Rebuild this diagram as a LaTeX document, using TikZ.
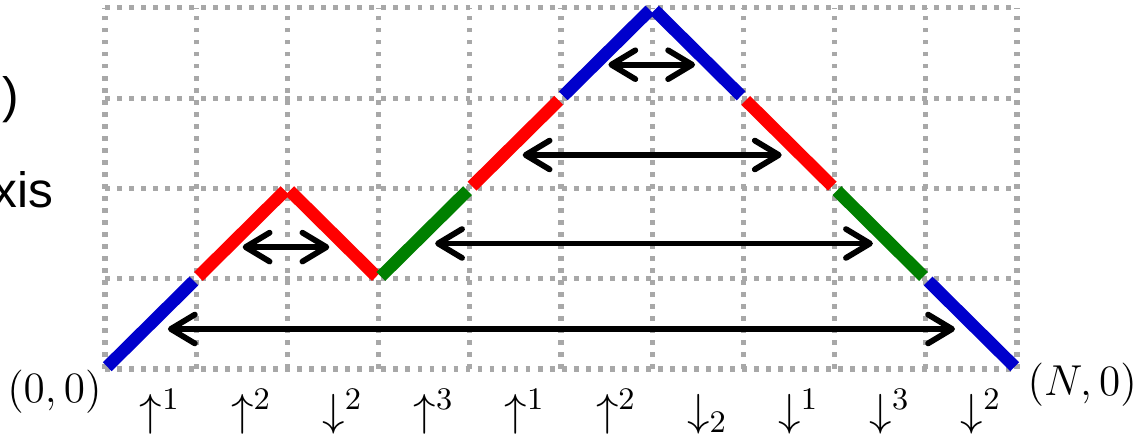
\documentclass[tikz,border=0pt]{standalone}
\usepackage{fix-cm}
\usepackage{fontspec}
\newfontfamily\arialfont{Liberation Sans}
\usetikzlibrary{arrows.meta}
\definecolor{pblue}{RGB}{0,0,204}
\definecolor{pred}{RGB}{255,0,0}
\definecolor{pgreen}{RGB}{0,128,0}
\definecolor{gridgray}{RGB}{168,168,168}
\begin{document}
\begin{tikzpicture}[x=1cm,y=0.99cm,
  gridline/.style={gridgray, line width=1.6pt, dash pattern=on 1.5pt off 2.25pt},
  seg/.style={line width=3.9pt, shorten <=1pt, shorten >=1pt},
  barb/.tip={Straight Barb[length=7.5pt,width=9pt,line cap=round,line join=round]},
  span/.style={line width=1.8pt, barb-barb, line cap=round},
  lab/.style={anchor=base west, inner sep=0pt, font=\fontsize{14}{16}\selectfont},
  corner/.style={inner sep=0pt, font=\fontsize{13.5}{16}\selectfont},
  cut/.style={anchor=base east, inner sep=0pt, font=\arialfont\fontsize{15.5}{18}\selectfont},
  ]
\useasboundingbox (-1.151cm,-0.778cm) rectangle (11.305cm,4.046cm);
% grid
\foreach \i in {0,...,10} \draw[gridline] (\i,0) -- (\i,4);
\foreach \j in {0,...,4} \draw[gridline] (0,\j) -- (10,\j);
% path points
\coordinate (p0) at (0,0);
\coordinate (p1) at (1,1);
\coordinate (p2) at (2,2);
\coordinate (p3) at (3,1);
\coordinate (p4) at (4,2);
\coordinate (p5) at (5,3);
\coordinate (p6) at (6,4);
\coordinate (p7) at (7,3);
\coordinate (p8) at (8,2);
\coordinate (p9) at (9,1);
\coordinate (p10) at (10,0);
\draw[seg,pblue]  (p0) -- (p1);
\draw[seg,pred]   (p1) -- (p2);
\draw[seg,pred]   (p2) -- (p3);
\draw[seg,pgreen] (p3) -- (p4);
\draw[seg,pred]   (p4) -- (p5);
\draw[seg,pblue]  (p5) -- (p6);
\draw[seg,pblue]  (p6) -- (p7);
\draw[seg,pred]   (p7) -- (p8);
\draw[seg,pgreen] (p8) -- (p9);
\draw[seg,pblue]  (p9) -- (p10);
% matching arrows
\coordinate (a1l) at (0.69,0.443);  \coordinate (a1r) at (9.32,0.443);
\coordinate (a2l) at (3.62,1.39);   \coordinate (a2r) at (8.42,1.39);
\coordinate (s1l) at (1.51,1.35);   \coordinate (s1r) at (2.46,1.35);
\coordinate (a3l) at (4.58,2.37);   \coordinate (a3r) at (7.42,2.37);
\coordinate (a4l) at (5.52,3.37);   \coordinate (a4r) at (6.47,3.37);
\draw[span] (a1l) -- (a1r);
\draw[span] (a2l) -- (a2r);
\draw[span] (s1l) -- (s1r);
\draw[span] (a3l) -- (a3r);
\draw[span] (a4l) -- (a4r);
% corner labels
\node[corner, anchor=north east] (origin) at (-0.03,0) {$(0,0)$};
\node[corner, anchor=north west] (end) at (10.11,0.077) {$(N,0)$};
% step labels
\foreach \i/\t in {1/\uparrow^{1}, 2/\uparrow^{2}, 3/\downarrow^{2}, 4/\uparrow^{3}, 5/\uparrow^{1}, 6/\uparrow^{2}, 7/\downarrow_{2}, 8/\downarrow^{1}, 9/\downarrow^{3}, 10/\downarrow^{2}}
  \node[lab] (l\i) at ([xshift=-3.5pt]\i-0.5,-0.63) {$\t$};
% cut-off text on the left
\node[cut] (cutA) at (-0.932cm,2.807cm) {))};
\node[cut] (cutB) at (-0.559cm,1.776cm) {xis};
\end{tikzpicture}
\end{document}
